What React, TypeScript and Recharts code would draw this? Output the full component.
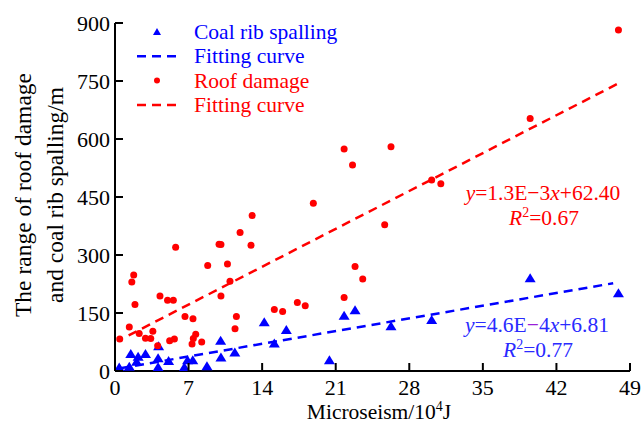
import React, { useLayoutEffect } from 'react';
import { ScatterChart, Scatter, XAxis, YAxis } from 'recharts';

const xTicks = [0, 7, 14, 21, 28, 35, 42, 49];
const yTicks = [0, 150, 300, 450, 600, 750, 900];

// roof damage (red dots)
const roofX = [0.45, 1.36, 1.6, 1.78, 1.9, 2.3, 2.9, 3.4, 3.6, 4.06, 4.28, 5.0, 5.55, 5.2, 5.65, 5.77, 6.66, 7.42, 7.33, 7.45, 7.68, 8.25, 8.82, 9.9, 10.08, 10.08, 10.7, 10.94, 11.55, 11.42, 11.9, 12.94, 13.05, 15.16, 15.95, 17.35, 18.1, 18.87, 21.8, 22.6, 21.8, 22.84, 23.57, 25.66, 26.26, 30.13, 31.0, 39.5, 47.9];
const roofY = [83, 114, 230, 248, 172, 97, 85, 84, 103, 65, 194, 183, 183, 78, 83, 320, 141, 135, 70, 84, 95, 75, 273, 328, 327, 194, 277, 232, 141, 109, 358, 325, 402, 159, 154, 177, 169, 434, 574, 533, 190, 270, 238, 378, 580, 494, 484, 653, 882];

// coal rib spalling (blue triangles)
const coalX = [0.4, 1.36, 1.5, 2.06, 2.2, 2.9, 4.1, 4.1, 4.15, 5.1, 6.6, 6.9, 7.4, 8.75, 10.05, 10.08, 11.4, 14.2, 15.16, 16.3, 20.4, 21.8, 22.84, 26.26, 30.13, 39.5, 47.9];
const coalY = [9, 11, 44, 24, 37, 44, 33, 10, 64, 26, 10, 28, 28, 12, 78, 35, 48, 126, 71, 106, 28, 143, 157, 116, 132, 240, 201];

// fitting curves (end points)
const fitRoofX = [1.3, 47.9];
const fitRoofY = [92, 744];
const fitCoalX = [0.5, 47.4];
const fitCoalY = [7, 227];

const toPoints = (xs: number[], ys: number[]) => xs.map((x, i) => ({ x, y: ys[i] }));

const roofData = toPoints(roofX, roofY);
const coalData = toPoints(coalX, coalY);
const fitRoofData = toPoints(fitRoofX, fitRoofY);
const fitCoalData = toPoints(fitCoalX, fitCoalY);

const FONT = '"Liberation Serif", "Times New Roman", serif';
const BLUE = '#0000ff';
const RED = '#ff0000';
const EQ_BLUE = '#2a2aff';

const XTick = (props: any) => {
  const { x, y, payload } = props;
  const axisY = y - 8;
  return (
    <g>
      <line x1={x} x2={x} y1={axisY} y2={axisY - 8} stroke="#000" strokeWidth={2} />
      <text x={x} y={y} dy="0.71em" textAnchor="middle" fontSize={22} fontFamily={FONT} fill="#000">
        {payload.value}
      </text>
    </g>
  );
};

const YTick = (props: any) => {
  const { x, y, payload } = props;
  const axisX = x + 5;
  return (
    <g>
      <line x1={axisX} x2={axisX + 8} y1={y} y2={y} stroke="#000" strokeWidth={2} />
      <text x={x} y={y} dy="0.355em" textAnchor="end" fontSize={22} fontFamily={FONT} fill="#000">
        {payload.value}
      </text>
    </g>
  );
};

const Dot = (props: any) => <circle cx={props.cx} cy={props.cy} r={3.5} fill={RED} />;

const Triangle = (props: any) => {
  const { cx, cy } = props;
  return <polygon points={`${cx},${cy - 5} ${cx - 5.5},${cy + 4} ${cx + 5.5},${cy + 4}`} fill={BLUE} />;
};

const NoShape = () => <g />;

const legendRows = [
  { label: 'Coal rib spalling', color: BLUE, kind: 'triangle' },
  { label: 'Fitting curve', color: BLUE, kind: 'dash' },
  { label: 'Roof damage', color: RED, kind: 'dot' },
  { label: 'Fitting curve', color: RED, kind: 'dash' },
];

const Overlay = () => (
  <svg width={634} height={415} style={{ position: 'absolute', left: 0, top: 0, pointerEvents: 'none', overflow: 'visible' }} fontFamily={FONT}>
    {/* legend */}
    {legendRows.map((r, i) => {
      const cy = 24 + i * 24.3;
      return (
        <g key={i}>
          {r.kind === 'triangle' && (
            <polygon points={`149,${cy - 4} ${145},${cy + 3} ${153},${cy + 3}`} fill={r.color} />
          )}
          {r.kind === 'dot' && <circle cx={149} cy={cy} r={3} fill={r.color} />}
          {r.kind === 'dash' && (
            <line x1={129} x2={172} y1={cy} y2={cy} stroke={r.color} strokeWidth={2.5} strokeDasharray="9 6" />
          )}
          <text x={186} y={cy} dy="0.33em" fontSize={21.5} fill={r.color}>
            {r.label}
          </text>
        </g>
      );
    })}

    {/* fitting equations */}
    <text x={535} y={192} textAnchor="middle" fontSize={21.5} fill={RED}>
      <tspan fontStyle="italic">y</tspan>=1.3E{'\u2212'}3<tspan fontStyle="italic">x</tspan>+62.40
    </text>
    <text x={536} y={217} textAnchor="middle" fontSize={21.5} fill={RED}>
      <tspan fontStyle="italic">R</tspan>
      <tspan dy={-8} fontSize={14}>2</tspan>
      <tspan dy={8}>=0.67</tspan>
    </text>
    <text x={529} y={324} textAnchor="middle" fontSize={21.5} fill={EQ_BLUE}>
      <tspan fontStyle="italic">y</tspan>=4.6E<tspan fill="#9a1fd8">{'\u2212'}</tspan>4<tspan fontStyle="italic">x</tspan>+6.81
    </text>
    <text x={530} y={349} textAnchor="middle" fontSize={21.5} fill={EQ_BLUE}>
      <tspan fontStyle="italic">R</tspan>
      <tspan dy={-8} fontSize={14}>2</tspan>
      <tspan dy={8}>=0.77</tspan>
    </text>

    {/* axis titles */}
    <text x={371} y={411} textAnchor="middle" fontSize={21.5} fill="#000">
      Microseism/10<tspan dy={-8} fontSize={14}>4</tspan>
      <tspan dy={8}>J</tspan>
    </text>
    <text x={23} y={187} transform="rotate(-90, 23, 187)" textAnchor="middle" fontSize={23.5} fill="#000">
      The range of roof damage
    </text>
    <text x={55} y={187} transform="rotate(-90, 55, 187)" textAnchor="middle" fontSize={23.5} fill="#000">
      and coal rib spalling/m
    </text>
  </svg>
);

export default function App() {
  // the chart plus the 8px body margins is larger than the window; drop the body margin
  // and pad by hand so nothing gets clipped or scrolled
  useLayoutEffect(() => {
    document.documentElement.style.overflow = 'hidden';
    document.body.style.margin = '0';
  }, []);

  return (
    <div style={{ padding: '8px 0 0 8px', width: 642, height: 423, boxSizing: 'border-box' }}>
      <div style={{ position: 'relative', width: 634, height: 415 }}>
        <ScatterChart width={634} height={415} margin={{ top: 15, right: 12, left: 0, bottom: 0 }} style={{ overflow: 'visible' }}>
          <XAxis
            type="number"
            dataKey="x"
            domain={[0, 49]}
            ticks={xTicks}
            height={52}
            tickSize={0}
            tickMargin={8}
            tickLine={false}
            tick={<XTick />}
            axisLine={{ stroke: '#000', strokeWidth: 2 }}
            allowDataOverflow
          />
          <YAxis
            type="number"
            dataKey="y"
            domain={[0, 900]}
            ticks={yTicks}
            width={107}
            tickSize={0}
            tickMargin={5}
            tickLine={false}
            tick={<YTick />}
            axisLine={{ stroke: '#000', strokeWidth: 2 }}
            allowDataOverflow
          />
          <Scatter data={fitCoalData} shape={<NoShape />} line={{ stroke: BLUE, strokeWidth: 2.5, strokeDasharray: '9 6' }} isAnimationActive={false} />
          <Scatter data={fitRoofData} shape={<NoShape />} line={{ stroke: RED, strokeWidth: 2.5, strokeDasharray: '9 6' }} isAnimationActive={false} />
          <Scatter data={coalData} shape={<Triangle />} isAnimationActive={false} />
          <Scatter data={roofData} shape={<Dot />} isAnimationActive={false} />
        </ScatterChart>
        <Overlay />
      </div>
    </div>
  );
}
